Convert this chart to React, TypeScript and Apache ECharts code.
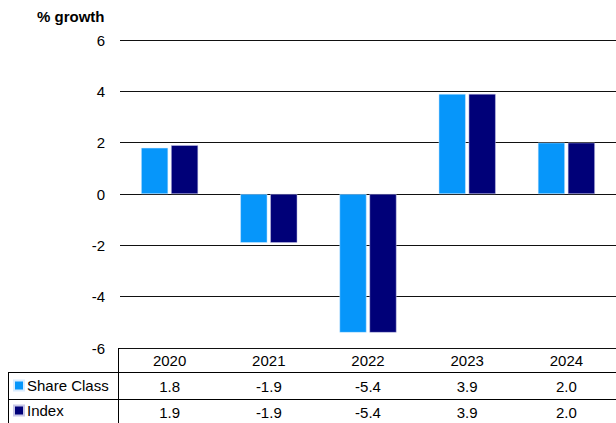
import React, { useEffect, useRef } from "react";
import * as echarts from "echarts";

const categories = ["2020", "2021", "2022", "2023", "2024"];
const shareClass = [1.8, -1.9, -5.4, 3.9, 2.0];
const indexValues = [1.9, -1.9, -5.4, 3.9, 2.0];
const seriesNames = ["Share Class", "Index"];
const yTicks = { min: -6, max: 6, interval: 2 };

const FONT = "'Liberation Sans', Arial, sans-serif";
const FS = 15;

export default function App() {
  const ref = useRef<HTMLDivElement>(null);
  useEffect(() => {
    if (!ref.current) return;
    const chart = echarts.init(ref.current, null, { renderer: "svg" });
    const W = 616;
    const H = 423;
    const tableLeft = 118;
    const gridLeft = 120;
    const gridTop = 40;
    const gridBottom = 75;
    const tableTop = H - gridBottom;
    const row1 = tableTop + 24;
    const row2 = tableTop + 51;
    const lineStyle = { stroke: "#000", lineWidth: 1 };
    const valueAxis = (offset: number, vals: number[] | null) => ({
      type: "category",
      data: categories,
      position: "bottom",
      offset,
      axisLine: { show: false },
      axisTick: { show: false },
      axisLabel: {
        margin: 5,
        fontSize: FS,
        color: "#000",
        fontFamily: FONT,
        formatter: (v: string, i: number) => (vals ? vals[i].toFixed(1) : v),
      },
    });
    chart.setOption({
      animation: false,
      textStyle: { fontFamily: FONT },
      grid: { left: gridLeft, right: -2, top: gridTop, bottom: gridBottom, containLabel: false },
      title: {
        text: "% growth",
        left: 37,
        top: 9,
        padding: 0,
        textStyle: { fontSize: FS, fontWeight: "bold", color: "#000", fontFamily: FONT },
      },
      legend: {
        orient: "vertical",
        left: 13,
        top: row1 + 6,
        padding: 0,
        itemGap: 10,
        itemWidth: 10,
        itemHeight: 10,
        icon: "rect",
        selectedMode: false,
        textStyle: { fontSize: FS, color: "#000", fontFamily: FONT, padding: [0, 0, 0, -2] },
        data: seriesNames,
      },
      xAxis: [
        valueAxis(0, null),
        valueAxis(26, shareClass),
        valueAxis(52, indexValues),
      ],
      yAxis: {
        type: "value",
        min: yTicks.min,
        max: yTicks.max,
        interval: yTicks.interval,
        axisLine: { show: false },
        axisTick: { show: false },
        axisLabel: { margin: 15, fontSize: FS, color: "#000", fontFamily: FONT },
        splitLine: { lineStyle: { color: "#111", width: 1 } },
      },
      series: [
        {
          name: seriesNames[0],
          type: "bar",
          data: shareClass,
          barWidth: 27,
          barGap: "11%",
          itemStyle: { color: "#0696fa", borderColor: "#d8ecff", borderWidth: 0.5 },
        },
        {
          name: seriesNames[1],
          type: "bar",
          data: indexValues,
          barWidth: 27,
          barGap: "11%",
          itemStyle: { color: "#000078", borderColor: "#c8c8e8", borderWidth: 0.5 },
        },
      ],
      graphic: [
        { type: "line", shape: { x1: tableLeft, y1: tableTop + 0.5, x2: W, y2: tableTop + 0.5 }, style: lineStyle },
        { type: "line", shape: { x1: 8, y1: row1 + 0.5, x2: W, y2: row1 + 0.5 }, style: lineStyle },
        { type: "line", shape: { x1: 8, y1: row2 + 0.5, x2: W, y2: row2 + 0.5 }, style: lineStyle },
        { type: "line", shape: { x1: 8.5, y1: row1, x2: 8.5, y2: H }, style: lineStyle },
        { type: "line", shape: { x1: tableLeft + 0.5, y1: tableTop, x2: tableLeft + 0.5, y2: H }, style: lineStyle },
      ],
    });
    return () => chart.dispose();
  }, []);
  return <div ref={ref} style={{ width: 616, height: 423, position: "absolute", left: 0, top: 0 }} />;
}
